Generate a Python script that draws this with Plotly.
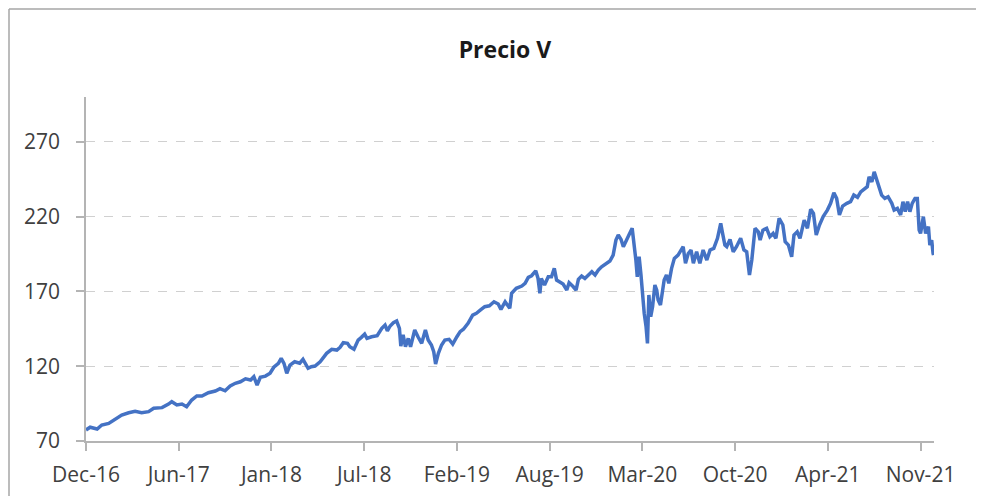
import plotly.graph_objects as go

title_text = "Precio V"

dates = [
    "2016-12-01", "2016-12-10", "2016-12-25", "2017-01-04", "2017-01-19", "2017-02-02",
    "2017-02-16", "2017-03-03", "2017-03-17", "2017-03-31", "2017-04-15", "2017-04-26",
    "2017-05-14", "2017-05-28", "2017-06-04", "2017-06-15", "2017-06-26", "2017-07-06",
    "2017-07-17", "2017-07-28", "2017-08-08", "2017-08-22", "2017-09-06", "2017-09-16",
    "2017-09-27", "2017-10-08", "2017-10-19", "2017-10-30", "2017-11-10", "2017-11-21",
    "2017-11-28", "2017-12-05", "2017-12-12", "2017-12-23", "2018-01-02", "2018-01-10",
    "2018-01-20", "2018-01-26", "2018-02-01", "2018-02-07", "2018-02-14", "2018-02-24",
    "2018-03-07", "2018-03-14", "2018-03-25", "2018-04-01", "2018-04-09", "2018-04-20",
    "2018-04-27", "2018-05-04", "2018-05-15", "2018-05-26", "2018-06-02", "2018-06-09",
    "2018-06-18", "2018-06-23", "2018-07-02", "2018-07-11", "2018-07-18", "2018-07-25",
    "2018-07-30", "2018-08-09", "2018-08-21", "2018-08-31", "2018-09-07", "2018-09-12",
    "2018-09-18", "2018-09-25", "2018-10-02", "2018-10-08", "2018-10-11", "2018-10-16",
    "2018-10-21", "2018-10-27", "2018-11-01", "2018-11-10", "2018-11-17", "2018-11-25",
    "2018-12-03", "2018-12-09", "2018-12-16", "2018-12-21", "2018-12-25", "2018-12-31",
    "2019-01-07", "2019-01-14", "2019-01-23", "2019-01-31", "2019-02-09", "2019-02-16",
    "2019-02-23", "2019-03-05", "2019-03-15", "2019-03-23", "2019-04-01", "2019-04-10",
    "2019-04-20", "2019-04-30", "2019-05-09", "2019-05-15", "2019-05-24", "2019-06-03",
    "2019-06-07", "2019-06-17", "2019-06-29", "2019-07-06", "2019-07-13", "2019-07-20",
    "2019-07-29", "2019-08-03", "2019-08-07", "2019-08-10", "2019-08-17", "2019-08-25",
    "2019-09-01", "2019-09-07", "2019-09-12", "2019-09-19", "2019-09-26", "2019-10-04",
    "2019-10-09", "2019-10-18", "2019-10-24", "2019-10-29", "2019-11-05", "2019-11-12",
    "2019-11-19", "2019-11-27", "2019-12-04", "2019-12-11", "2019-12-18", "2019-12-29",
    "2020-01-05", "2020-01-12", "2020-01-18", "2020-01-23", "2020-01-29", "2020-02-03",
    "2020-02-09", "2020-02-15", "2020-02-22", "2020-02-26", "2020-03-01", "2020-03-04",
    "2020-03-08", "2020-03-12", "2020-03-16", "2020-03-19", "2020-03-23", "2020-03-26",
    "2020-03-29", "2020-04-02", "2020-04-06", "2020-04-11", "2020-04-15", "2020-04-18",
    "2020-04-23", "2020-05-01", "2020-05-06", "2020-05-11", "2020-05-17", "2020-05-23",
    "2020-05-31", "2020-06-08", "2020-06-11", "2020-06-16", "2020-06-22", "2020-06-28",
    "2020-07-03", "2020-07-10", "2020-07-17", "2020-07-24", "2020-08-01", "2020-08-08",
    "2020-08-16", "2020-08-24", "2020-08-31", "2020-09-04", "2020-09-09", "2020-09-13",
    "2020-09-20", "2020-09-27", "2020-10-04", "2020-10-13", "2020-10-20", "2020-10-26",
    "2020-11-01", "2020-11-06", "2020-11-13", "2020-11-20", "2020-11-24", "2020-11-30",
    "2020-12-08", "2020-12-15", "2020-12-22", "2020-12-28", "2021-01-04", "2021-01-12",
    "2021-01-17", "2021-01-24", "2021-01-31", "2021-02-05", "2021-02-12", "2021-02-18",
    "2021-02-27", "2021-03-06", "2021-03-13", "2021-03-19", "2021-03-25", "2021-04-01",
    "2021-04-09", "2021-04-18", "2021-04-25", "2021-05-02", "2021-05-08", "2021-05-14",
    "2021-05-21", "2021-05-30", "2021-06-07", "2021-06-14", "2021-06-22", "2021-06-29",
    "2021-07-06", "2021-07-13", "2021-07-17", "2021-07-23", "2021-07-28", "2021-08-02",
    "2021-08-08", "2021-08-13", "2021-08-20", "2021-08-27", "2021-09-04", "2021-09-09",
    "2021-09-16", "2021-09-23", "2021-09-28", "2021-10-03", "2021-10-08", "2021-10-13",
    "2021-10-18", "2021-10-24", "2021-10-29", "2021-11-02", "2021-11-05", "2021-11-11",
    "2021-11-16", "2021-11-22", "2021-11-25", "2021-11-29", "2021-12-02", "2021-12-03",
]

prices = [
    77.4, 79.2, 78.0, 80.7, 81.8, 84.5,
    87.4, 88.9, 89.8, 88.9, 89.6, 91.9,
    92.3, 94.7, 96.3, 94.1, 94.7, 92.9,
    97.4, 100.1, 100.1, 102.3, 103.4, 105.0,
    103.6, 106.8, 108.6, 109.6, 111.6, 110.8,
    113.0, 107.4, 112.6, 113.4, 115.3, 119.3,
    121.9, 125.3, 121.9, 115.3, 120.8, 123.0,
    122.0, 124.6, 118.6, 119.7, 120.1, 123.0,
    126.3, 128.6, 131.3, 130.8, 132.6, 135.7,
    135.3, 133.0, 131.3, 137.5, 139.3, 141.5,
    138.6, 139.7, 140.4, 145.3, 147.5, 143.7,
    146.9, 149.1, 150.2, 145.3, 133.5, 140.9,
    133.0, 138.6, 133.0, 144.2, 139.7, 135.3,
    144.2, 137.5, 134.2, 129.7, 121.5, 128.6,
    134.2, 137.5, 138.0, 134.8, 139.7, 143.1,
    144.7, 148.7, 154.2, 155.4, 157.6, 159.8,
    160.4, 163.1, 161.6, 158.0, 163.1, 158.7,
    168.7, 172.1, 173.6, 175.4, 179.4, 180.5,
    183.8, 178.7, 168.7, 178.7, 174.3, 179.8,
    179.8, 185.4, 177.6, 176.5, 174.9, 170.9,
    175.8, 173.1, 170.9, 178.1, 180.3, 178.7,
    181.0, 183.2, 181.0, 184.3, 186.5, 188.8,
    190.3, 194.3, 204.3, 207.7, 204.8, 199.9,
    204.3, 207.7, 212.2, 203.2, 191.0, 179.8,
    193.2, 181.0, 162.0, 155.4, 146.4, 135.3,
    167.6, 153.1, 159.8, 174.3, 170.9, 164.2,
    160.9, 177.6, 181.0, 175.4, 185.4, 192.1,
    194.3, 198.8, 199.9, 188.8, 195.4, 197.7,
    188.8, 196.5, 188.8, 197.7, 191.0, 197.7,
    198.8, 205.5, 215.5, 208.8, 201.0, 199.9,
    204.8, 196.5, 199.9, 205.5, 197.7, 196.5,
    181.0, 191.0, 212.2, 209.9, 204.3, 211.0,
    212.2, 206.6, 208.8, 205.5, 218.9, 214.4,
    203.2, 201.0, 193.2, 207.7, 209.9, 205.5,
    217.7, 212.2, 224.9, 222.2, 207.7, 214.4,
    220.0, 224.4, 228.9, 236.0, 232.2, 221.1,
    227.1, 228.9, 230.0, 234.4, 232.9, 236.6,
    238.2, 240.0, 246.7, 243.3, 250.0, 244.5,
    240.0, 234.4, 232.2, 233.3, 228.9, 224.4,
    225.5, 221.1, 230.0, 223.3, 230.0, 223.3,
    228.9, 232.2, 232.2, 211.0, 208.8, 220.0,
    208.8, 213.3, 201.0, 204.3, 195.4, 194.3,
]

x_tick_dates = ["2016-12-01", "2017-06-19", "2018-01-05", "2018-07-24", "2019-02-09",
                "2019-08-28", "2020-03-15", "2020-10-01", "2021-04-19", "2021-11-05"]
x_tick_labels = ["Dec-16", "Jun-17", "Jan-18", "Jul-18", "Feb-19",
                 "Aug-19", "Mar-20", "Oct-20", "Apr-21", "Nov-21"]
y_ticks = [70, 120, 170, 220, 270]

FONT = "Open Sans"
AXIS_GRAY = "#b4b4b4"
TEXT_GRAY = "#404040"

fig = go.Figure()
fig.add_trace(go.Scatter(
    x=dates, y=prices, mode="lines",
    line=dict(color="#4472C4", width=3.5),
    showlegend=False,
))

fig.update_layout(
    width=984, height=496,
    margin=dict(l=78, r=58, t=89, b=63),
    paper_bgcolor="white", plot_bgcolor="white",
    title=dict(text=title_text, x=0.505, xanchor="center", y=0.915, yanchor="middle",
               font=dict(family=FONT, size=23, color="#1a1a1a", weight="bold")),
    shapes=[
        dict(type="line", xref="paper", yref="paper", x0=-0.0908, x1=1.1, y0=1.2558, y1=1.2558,
             line=dict(color="#a6a6a6", width=1.5)),
        dict(type="line", xref="paper", yref="paper", x0=-0.0908, x1=-0.0908, y0=1.2558, y1=-0.3,
             line=dict(color="#a6a6a6", width=1.5)),
    ],
)

fig.update_xaxes(
    type="date",
    range=["2016-12-01", "2021-12-04"],
    tickvals=x_tick_dates, ticktext=x_tick_labels,
    showgrid=False, zeroline=False,
    showline=True, linecolor=AXIS_GRAY, linewidth=1.5,
    ticks="outside", ticklen=8, tickcolor=AXIS_GRAY, tickwidth=1.5,
    tickfont=dict(family=FONT, size=21, color=TEXT_GRAY),
    ticklabelstandoff=6,
)
fig.update_yaxes(
    range=[70, 300],
    tickvals=y_ticks,
    showgrid=True, gridcolor="#d0d0d0", griddash="dash", gridwidth=1,
    zeroline=False,
    showline=True, linecolor=AXIS_GRAY, linewidth=1.5,
    ticks="outside", ticklen=8, tickcolor=AXIS_GRAY, tickwidth=1.5,
    tickfont=dict(family=FONT, size=21, color=TEXT_GRAY),
    ticklabelstandoff=12,
)

fig.write_html("out.html")
